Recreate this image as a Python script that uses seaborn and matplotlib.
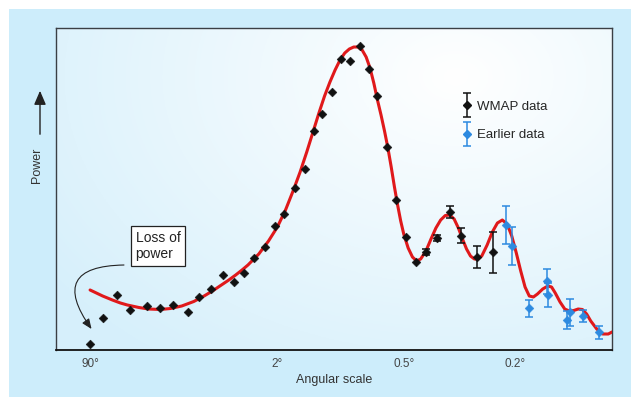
"""WMAP angular power spectrum sketch: writes out.png."""
import matplotlib
matplotlib.use("Agg")
import matplotlib.pyplot as plt
import numpy as np
import seaborn as sns
from matplotlib.legend_handler import HandlerErrorbar
from matplotlib.patches import Rectangle

# multipole l (angular scale ~ 180/l degrees), power in arbitrary units
wmap_l = [2, 3, 4.5, 6.5, 9.6, 13, 17, 22.5, 27.4, 33.7, 41, 49, 56.6, 65, 76.6,
          87.3, 98.4, 112, 127, 142, 156, 174, 192, 212, 235, 257, 280, 308, 335,
          369, 403, 442, 486, 541, 594, 672, 762]
wmap_p = [4.8, 30.6, 53.7, 38.6, 43, 41, 44.3, 36.6, 52.3, 60.4, 74.4, 67, 75.7,
          90.8, 102.5, 122.9, 135.3, 161, 179.8, 217.9, 234.9, 256.7, 289.8, 288.1,
          303.5, 280.1, 253.3, 201.8, 149.3, 112.5, 87.5, 96.8, 111.5, 137, 113.5,
          91.8, 96.8]
wmap_err = [0] * 31 + [3, 3, 6, 7.5, 11, 20.5]

earlier_l = [842, 884, 1000, 1136, 1142, 1301, 1322, 1448, 1607]
earlier_p = [123.6, 103.5, 40.6, 67.7, 53.7, 29.3, 36.6, 32.6, 16.6]
earlier_err = [19, 19, 8.4, 12.5, 12, 9, 13.7, 6, 6.4]

model_l = [2, 3, 4, 5, 6, 8, 10, 13, 16, 20, 25, 30, 35, 40, 45, 50, 55, 60, 70,
           80, 90, 100, 110, 120, 130, 140, 150, 160, 170, 180, 190, 200, 210, 220,
           230, 240, 250, 260, 270, 280, 290, 300, 310, 320, 330, 340, 350, 360,
           375, 390, 405, 420, 440, 460, 480, 500, 520, 540, 560, 580, 600, 620,
           640, 660, 680, 700, 730, 760, 790, 820, 850, 880, 910, 940, 970, 1000,
           1030, 1060, 1100, 1140, 1170, 1200, 1240, 1280, 1320, 1360, 1400, 1440,
           1480, 1520, 1580, 1640, 1700, 1740]
model_p = [59, 53, 49, 46, 44, 41.5, 40, 39.5, 40.5, 43, 47.5, 53, 58.5, 64, 69,
           74, 79, 84, 95, 108, 122, 139, 158, 177, 197, 217, 236, 253, 267, 279,
           289, 296, 300, 302, 302, 299, 292, 281, 266, 249, 234, 218, 201, 182,
           162, 144, 128, 115, 101, 92, 88, 90, 98, 110, 121, 129, 133.5, 134, 130,
           121, 110, 100, 93, 90, 90, 93, 104, 117, 126, 129, 125, 113, 96, 78, 62,
           53, 52, 55, 60, 63, 62, 56, 47, 40, 38, 38.5, 40, 39.5, 35, 28, 20, 15,
           15, 17]

tick_l = [2, 90, 360, 900]
tick_labels = ["90°", "2°", "0.5°", "0.2°"]

BG = "#cdedfb"
RED = "#e0191b"
BLUE = "#2d8ae0"
INK = "#111111"

sns.set_style("white")
plt.rcParams["font.family"] = ["Liberation Sans", "DejaVu Sans"]

fig = plt.figure(figsize=(6.31, 3.97), dpi=100, facecolor="white")
fig.patches.append(Rectangle((9 / 631, 0), 1, 1 - 9 / 397, transform=fig.transFigure,
                             facecolor=BG, edgecolor="none", zorder=-10))
ax = fig.add_axes([56 / 631, 47 / 397, 556 / 631, 322 / 397])

# soft radial wash behind the data
yy, xx = np.mgrid[0:1:200j, 0:1:300j]
d = np.clip(np.hypot((xx - 0.72) / 0.9, (yy - 0.85) / 1.1), 0, 1)
bg = np.array([1.0, 1.0, 1.0]) * (1 - d[..., None]) + np.array([0.84, 0.94, 0.985]) * d[..., None]
ax.imshow(bg, extent=(0, 1, 0, 1), origin="lower", transform=ax.transAxes,
          aspect="auto", zorder=0)

fwd = lambda v: np.sign(v) * np.abs(v) ** 0.25
inv = lambda v: np.sign(v) * np.abs(v) ** 4
ax.set_xscale("function", functions=(fwd, inv))
ax.set_xlim(0.51, 1740)
ax.set_ylim(-1, 321)

sns.lineplot(x=model_l, y=model_p, color=RED, lw=2.2, ax=ax, zorder=3, sort=False)

w_err = np.array(wmap_err, dtype=float)
has = w_err > 0
ax.errorbar(np.array(wmap_l)[has], np.array(wmap_p)[has], yerr=w_err[has], fmt="none",
            ecolor=INK, elinewidth=1.1, capsize=3, capthick=1.1, zorder=4)
ax.errorbar(earlier_l, earlier_p, yerr=earlier_err, fmt="none",
            ecolor=BLUE, elinewidth=1.1, capsize=3, capthick=1.1, zorder=4)
sns.scatterplot(x=wmap_l, y=wmap_p, marker="D", s=20, color=INK, edgecolor=INK,
                ax=ax, zorder=5, clip_on=False, legend=False)
sns.scatterplot(x=earlier_l, y=earlier_p, marker="D", s=20, color=BLUE, edgecolor=BLUE,
                ax=ax, zorder=5, legend=False)

# legend proxies: marker plus error bar (nan points, never drawn)
h_w = ax.errorbar([np.nan], [np.nan], yerr=[1.0], fmt="D", color=INK, ms=4.5,
                  elinewidth=1.1, capsize=3, capthick=1.1, label="WMAP data")
h_e = ax.errorbar([np.nan], [np.nan], yerr=[1.0], fmt="D", color=BLUE, ms=4.5,
                  elinewidth=1.1, capsize=3, capthick=1.1, label="Earlier data")
ax.legend(handles=[h_w, h_e], loc="upper left", bbox_to_anchor=(0.728, 0.775),
          frameon=False, fontsize=9.5, handlelength=0.9, handletextpad=0.3,
          labelspacing=1.25, borderpad=0, borderaxespad=0,
          handler_map={type(h_w): HandlerErrorbar(yerr_size=0.9)})

# "Loss of power" call-out
ax.text(7.4, 118, "Loss of\npower", ha="left", va="top", fontsize=10, color="#222222",
        linespacing=1.2, zorder=6,
        bbox=dict(boxstyle="square,pad=0.35", facecolor="white", edgecolor="#222222", lw=0.9))
ax.annotate("", xy=(2.1, 20), xytext=(5.5, 84),
            arrowprops=dict(arrowstyle="-|>,head_length=0.6,head_width=0.25", color="#222222",
                            lw=0.8, connectionstyle="arc3,rad=0.95", shrinkA=0, shrinkB=0),
            zorder=6)

ax.set_xticks(tick_l)
ax.set_xticklabels(tick_labels)
ax.set_yticks([])
ax.minorticks_off()
ax.tick_params(axis="x", direction="inout", length=8, width=1.0, colors="#222222",
               labelsize=8.5, labelcolor="#444444", pad=2)
ax.set_xlabel("Angular scale", fontsize=9, color="#333333", labelpad=3)
ax.set_ylabel("")

for side in ["left", "top", "right"]:
    ax.spines[side].set_color("#3a3f44")
    ax.spines[side].set_linewidth(1.0)
ax.spines["bottom"].set_color(INK)
ax.spines["bottom"].set_linewidth(1.3)

fig.text(37 / 631, 1 - 165 / 397, "Power", rotation=90, ha="center", va="center",
         fontsize=9, color="#333333")
fig.add_artist(matplotlib.patches.FancyArrowPatch(
    (40 / 631, 1 - 137 / 397), (40 / 631, 1 - 88 / 397), transform=fig.transFigure,
    arrowstyle="-|>,head_length=0.7,head_width=0.3", color="#222222", lw=1.0,
    mutation_scale=12))

fig.savefig("out.png", dpi=100, facecolor="white")
